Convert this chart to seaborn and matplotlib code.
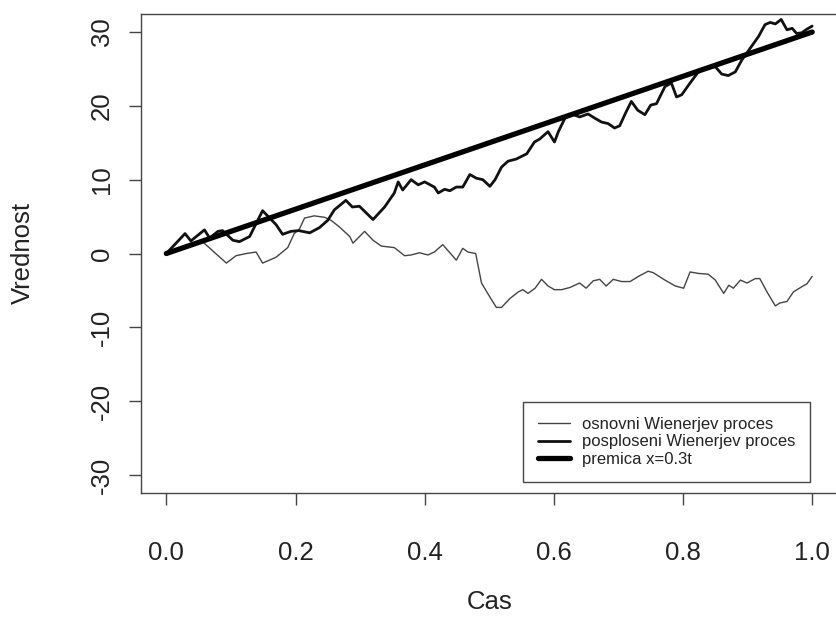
import numpy as np
import pandas as pd
import seaborn as sns
import matplotlib.pyplot as plt

# ---- data ----
# posploseni (generalised) Wiener process, vertices
gen_t = [0.0, 0.029, 0.038, 0.059, 0.067, 0.080, 0.087, 0.103, 0.113, 0.129,
         0.149, 0.170, 0.180, 0.193, 0.205, 0.222, 0.237, 0.250, 0.260, 0.278,
         0.288, 0.299, 0.320, 0.338, 0.353, 0.359, 0.366, 0.379, 0.390, 0.400,
         0.415, 0.421, 0.431, 0.439, 0.449, 0.459, 0.470, 0.480, 0.490, 0.501,
         0.509, 0.519, 0.529, 0.542, 0.558, 0.570, 0.578, 0.591, 0.601, 0.607,
         0.617, 0.627, 0.640, 0.653, 0.664, 0.674, 0.684, 0.694, 0.702, 0.712,
         0.720, 0.730, 0.741, 0.750, 0.759, 0.772, 0.782, 0.790, 0.798, 0.811,
         0.822, 0.829, 0.850, 0.860, 0.870, 0.881, 0.891, 0.904, 0.917, 0.927,
         0.935, 0.943, 0.952, 0.961, 0.969, 0.976, 0.984, 0.992, 1.000]
gen_y = [0.0, 2.7, 1.7, 3.2, 2.1, 3.0, 3.1, 1.8, 1.6, 2.3,
         5.8, 3.9, 2.6, 3.0, 3.1, 2.8, 3.5, 4.5, 5.9, 7.2,
         6.3, 6.4, 4.6, 6.3, 8.2, 9.7, 8.6, 10.0, 9.3, 9.7,
         9.0, 8.2, 8.7, 8.5, 9.0, 9.0, 10.7, 10.2, 10.0, 9.1,
         10.0, 11.7, 12.5, 12.8, 13.5, 15.1, 15.5, 16.5, 15.1, 16.5,
         18.3, 18.9, 18.5, 18.9, 18.3, 17.8, 17.6, 17.0, 17.3, 19.2,
         20.6, 19.4, 18.8, 20.1, 20.3, 22.6, 23.1, 21.2, 21.5, 23.1,
         24.4, 24.9, 25.3, 24.3, 24.1, 24.6, 26.2, 27.8, 29.4, 31.0,
         31.3, 31.1, 31.7, 30.3, 30.5, 29.8, 29.9, 30.4, 30.8]

# osnovni (standard) Wiener process, vertices
std_t = [0.0, 0.030, 0.056, 0.093, 0.108, 0.124, 0.139, 0.149, 0.170, 0.188,
         0.198, 0.206, 0.214, 0.229, 0.245, 0.255, 0.268, 0.284, 0.289, 0.307,
         0.320, 0.333, 0.353, 0.369, 0.379, 0.392, 0.405, 0.415, 0.428, 0.449,
         0.459, 0.467, 0.479, 0.488, 0.501, 0.511, 0.519, 0.532, 0.545, 0.552,
         0.560, 0.571, 0.581, 0.591, 0.601, 0.612, 0.625, 0.640, 0.650, 0.661,
         0.671, 0.681, 0.692, 0.705, 0.718, 0.731, 0.746, 0.754, 0.772, 0.788,
         0.801, 0.811, 0.824, 0.839, 0.850, 0.863, 0.871, 0.878, 0.889, 0.899,
         0.912, 0.919, 0.930, 0.943, 0.950, 0.961, 0.971, 0.984, 0.992, 1.000]
std_y = [0.0, 0.9, 1.6, -1.3, -0.3, 0.0, 0.2, -1.3, -0.5, 0.8,
         2.7, 3.3, 4.8, 5.1, 4.9, 4.5, 3.6, 2.3, 1.4, 3.0,
         1.8, 1.0, 0.8, -0.3, -0.2, 0.1, -0.2, 0.2, 1.2, -0.9,
         0.7, 0.2, 0.0, -4.0, -5.9, -7.3, -7.3, -6.1, -5.2, -4.9,
         -5.4, -4.7, -3.5, -4.4, -4.9, -4.9, -4.6, -4.0, -4.7, -3.7,
         -3.5, -4.4, -3.5, -3.8, -3.8, -3.1, -2.4, -2.6, -3.6, -4.4,
         -4.7, -2.5, -2.7, -2.8, -3.6, -5.4, -4.3, -4.7, -3.6, -4.0,
         -3.4, -3.4, -5.2, -7.1, -6.7, -6.5, -5.2, -4.5, -4.1, -3.1]

# premica x = 0.3t
line_t = [0.0, 1.0]
line_y = [0.0, 30.0]

labels = ["osnovni Wienerjev proces", "posploseni Wienerjev proces", "premica x=0.3t"]
xticks = [0.0, 0.2, 0.4, 0.6, 0.8, 1.0]
yticks = [-30, -20, -10, 0, 10, 20, 30]

sns.set_style("white")
plt.rcParams['font.family'] = ['Liberation Sans', 'DejaVu Sans']

fig = plt.figure(figsize=(8.36, 6.25), dpi=100)
# axes box runs slightly past the right edge of the image, as in the reference
ax = fig.add_axes([140.5 / 836, (625 - 492.7) / 625, (838 - 140.5) / 836, (492.7 - 14.3) / 625])

df_std = pd.DataFrame({"t": std_t, "v": std_y})
df_gen = pd.DataFrame({"t": gen_t, "v": gen_y})
df_line = pd.DataFrame({"t": line_t, "v": line_y})

sns.lineplot(data=df_std, x="t", y="v", ax=ax, color="#444444", lw=1.0,
             estimator=None, sort=False, label=labels[0])
sns.lineplot(data=df_gen, x="t", y="v", ax=ax, color="#111111", lw=2.0,
             estimator=None, sort=False, label=labels[1])
sns.lineplot(data=df_line, x="t", y="v", ax=ax, color="black", lw=3.8,
             estimator=None, sort=False, label=labels[2], solid_capstyle="round")
for ln in ax.get_lines():
    ln.set_solid_joinstyle("round")

ax.set_xlim(-0.04, 1.04)
ax.set_ylim(-32.4, 32.4)
ax.set_xticks(xticks)
ax.set_xticklabels([f"{v:.1f}" for v in xticks])
ax.set_yticks(yticks)
ax.set_yticklabels([str(v) for v in yticks])

for s in ax.spines.values():
    s.set_color("#444444")
    s.set_linewidth(1.0)

ax.tick_params(axis="both", direction="out", length=8.6, width=1.0, color="#444444",
               labelsize=18.5, labelcolor="#222222", bottom=True, left=True)
ax.tick_params(axis="x", pad=26)
ax.tick_params(axis="y", pad=10.6)
plt.setp(ax.get_yticklabels(), rotation=90, va="center")

ax.set_xlabel("Cas", fontsize=18.5, color="#222222")
ax.set_ylabel("Vrednost", fontsize=18.5, color="#222222")
ax.xaxis.set_label_coords(0.5, -0.203)
ax.yaxis.set_label_coords(-0.151, 0.5)

leg = ax.legend(loc="lower left", bbox_to_anchor=(0.548, 0.022), fontsize=12,
                frameon=True, fancybox=False, edgecolor="#444444", framealpha=1,
                handlelength=1.95, handletextpad=0.7, borderpad=0.9,
                labelspacing=0.17, borderaxespad=0)
leg.get_frame().set_linewidth(1.0)
for t in leg.get_texts():
    t.set_color("#222222")

fig.savefig("out.png", dpi=100)
